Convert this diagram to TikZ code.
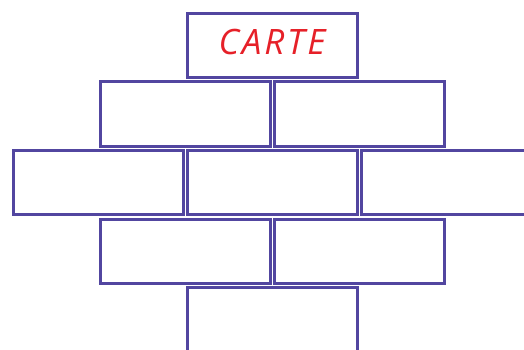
\documentclass[tikz,border=0pt]{standalone}
\usepackage{fontspec}
\usepackage{xcolor}
\usepackage{tikz}
\usetikzlibrary{positioning}
\newfontfamily\cartefont[LetterSpace=8]{Open Sans}
\definecolor{brickline}{RGB}{82,70,160}
\definecolor{cartered}{RGB}{230,32,40}

\begin{document}
\begin{tikzpicture}[x=1pt, y=1pt,
  brick/.style={draw=brickline, line width=3pt, minimum width=170pt, minimum height=64pt, inner sep=0pt, fill=white},
  lab/.style={font=\cartefont\itshape\fontsize{35}{37}\selectfont, text=cartered}]
\useasboundingbox (0,0) rectangle (524,-350);
% top row
\node[brick] (carte) at (272,-45.5) {};
\node[lab, yshift=3pt] (title) at (carte.center) {CARTE};
% second row
\node[brick, below=1.5pt of carte.south west] (b2l) {};
\node[brick, right=1pt of b2l] (b2r) {};
% middle row
\node[brick, below=1.5pt of b2l.south east] (b3m) {};
\node[brick, left=1pt of b3m] (b3l) {};
\node[brick, right=1pt of b3m] (b3r) {};
% fourth row
\node[brick, below=1.5pt of b3m.south west] (b4l) {};
\node[brick, right=1pt of b4l] (b4r) {};
% bottom row
\node[brick, below=1.5pt of b4l.south east] (b5) {};
\end{tikzpicture}
\end{document}
